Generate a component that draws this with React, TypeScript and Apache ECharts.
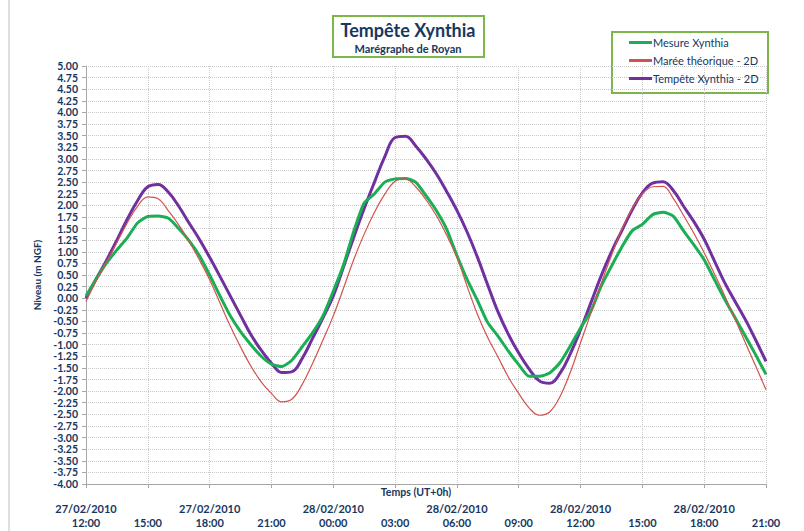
import React, { useEffect, useRef } from "react";
import * as echarts from "echarts";

// Hours since 27/02/2010 12:00 (UT), half-hour sampling
const hours: number[] = Array.from({ length: 67 }, (_, i) => i * 0.5);

const mesureXynthia: number[] = [
  0.05, 0.42, 0.76, 1.04, 1.30, 1.62, 1.76, 1.77, 1.72, 1.50,
  1.24, 0.92, 0.50, 0.05, -0.38, -0.72, -1.00, -1.25, -1.42, -1.47,
  -1.33, -1.04, -0.74, -0.38, 0.15, 0.72, 1.45, 2.05, 2.25, 2.50,
  2.57, 2.58, 2.50, 2.21, 1.89, 1.49, 0.92, 0.40, -0.05, -0.53,
  -0.82, -1.14, -1.43, -1.68, -1.68, -1.61, -1.39, -1.03, -0.64, -0.28,
  0.26, 0.69, 1.10, 1.45, 1.59, 1.80, 1.85, 1.77, 1.45, 1.15,
  0.83, 0.40, -0.03, -0.42, -0.82, -1.22, -1.64,
];

const mareeTheorique: number[] = [
  -0.07, 0.38, 0.78, 1.20, 1.62, 1.98, 2.18, 2.14, 1.88, 1.58,
  1.22, 0.83, 0.40, -0.10, -0.60, -1.05, -1.46, -1.80, -2.05, -2.23,
  -2.17, -1.85, -1.40, -0.90, -0.38, 0.22, 0.84, 1.38, 1.85, 2.24,
  2.52, 2.57, 2.40, 2.12, 1.78, 1.36, 0.88, 0.25, -0.35, -0.85,
  -1.27, -1.70, -2.05, -2.36, -2.52, -2.45, -2.12, -1.60, -0.96, -0.32,
  0.32, 0.92, 1.48, 1.92, 2.25, 2.40, 2.41, 2.15, 1.78, 1.40,
  0.98, 0.52, 0.05, -0.45, -0.96, -1.46, -1.97,
];

const tempeteXynthia: number[] = [
  0.00, 0.42, 0.82, 1.25, 1.70, 2.10, 2.40, 2.45, 2.28, 1.98,
  1.62, 1.27, 0.88, 0.47, 0.05, -0.37, -0.78, -1.12, -1.40, -1.60,
  -1.58, -1.29, -0.86, -0.42, 0.05, 0.68, 1.32, 1.93, 2.50, 3.05,
  3.46, 3.49, 3.28, 3.00, 2.68, 2.30, 1.89, 1.42, 0.88, 0.28,
  -0.30, -0.78, -1.18, -1.52, -1.78, -1.83, -1.62, -1.20, -0.68, -0.10,
  0.48, 1.00, 1.45, 1.90, 2.27, 2.48, 2.51, 2.32, 1.98, 1.65,
  1.27, 0.80, 0.33, -0.07, -0.46, -0.90, -1.36,
];

const xTickLabels: string[] = [
  "27/02/2010\n12:00", "\n15:00", "27/02/2010\n18:00", "\n21:00",
  "28/02/2010\n00:00", "\n03:00", "28/02/2010\n06:00", "\n09:00",
  "28/02/2010\n12:00", "\n15:00", "28/02/2010\n18:00", "\n21:00",
];

const seriesNames = ["Mesure Xynthia", "Marée théorique - 2D", "Tempête Xynthia - 2D"];
const seriesColors = ["#1AAF54", "#D4524E", "#7030A0"];

const NAVY = "#17375E";
const FONT = "Lato, 'Open Sans', sans-serif";
const BOX_GREEN = "#7DB74B";

export default function App() {
  const ref = useRef<HTMLDivElement>(null);
  useEffect(() => {
    if (!ref.current) return;
    const chart = echarts.init(ref.current, undefined, { renderer: "svg" });
    const pairs = (vals: number[]) => hours.map((h, i) => [h, vals[i]]);
    chart.setOption({
      animation: false,
      backgroundColor: "#ffffff",
      textStyle: { fontFamily: FONT },
      grid: { left: 86, right: 38, top: 66, bottom: 47, containLabel: false },
      legend: {
        orient: "vertical",
        left: 629,
        top: 36,
        padding: 0,
        itemWidth: 23,
        itemHeight: 3,
        itemGap: 5,
        icon: "rect",
        data: seriesNames.map((n) => ({ name: n, icon: "rect" })),
        textStyle: { color: NAVY, fontSize: 11, fontFamily: FONT, lineHeight: 13, padding: [0, 0, 0, -4] },
      },
      xAxis: {
        type: "value",
        min: 0,
        max: 33,
        interval: 3,
        axisLine: { show: true, onZero: false, lineStyle: { color: "#A6A6A6" } },
        axisTick: { show: true, length: 4, lineStyle: { color: "#A6A6A6" } },
        axisLabel: {
          margin: 17,
          lineHeight: 14,
          color: NAVY,
          fontSize: 11,
          fontWeight: "bold",
          fontFamily: FONT,
          formatter: (v: number) => xTickLabels[Math.round(v / 3)] ?? "",
        },
        splitLine: { show: true, lineStyle: { color: "#C8C8C8", type: "dotted", width: 1 } },
      },
      yAxis: {
        type: "value",
        min: -4,
        max: 5,
        interval: 0.25,
        name: "Niveau (m NGF)",
        nameLocation: "middle",
        nameGap: 34,
        nameRotate: 90,
        nameTextStyle: { color: NAVY, fontSize: 10, fontWeight: "bold", fontFamily: FONT },
        axisLine: { show: true, lineStyle: { color: "#A6A6A6" } },
        axisTick: { show: true, length: 4, lineStyle: { color: "#A6A6A6" } },
        axisLabel: {
          margin: 8,
          color: NAVY,
          fontSize: 10.5,
          fontWeight: "bold",
          fontFamily: FONT,
          formatter: (v: number) => v.toFixed(2),
        },
        splitLine: { show: true, lineStyle: { color: "#C8C8C8", type: "dotted", width: 1 } },
      },
      series: [
        {
          name: seriesNames[0],
          type: "line",
          data: pairs(mesureXynthia),
          symbol: "none",
          smooth: 0.2,
          z: 3,
          lineStyle: { color: seriesColors[0], width: 3 },
          itemStyle: { color: seriesColors[0] },
        },
        {
          name: seriesNames[1],
          type: "line",
          data: pairs(mareeTheorique),
          symbol: "none",
          smooth: 0.4,
          z: 4,
          lineStyle: { color: seriesColors[1], width: 1.2 },
          itemStyle: { color: seriesColors[1] },
        },
        {
          name: seriesNames[2],
          type: "line",
          data: pairs(tempeteXynthia),
          symbol: "none",
          smooth: 0.4,
          z: 2,
          lineStyle: { color: seriesColors[2], width: 3 },
          itemStyle: { color: seriesColors[2] },
        },
      ],
      graphic: [
        { type: "line", shape: { x1: 9, y1: 0, x2: 9, y2: 531 }, style: { stroke: "#BFBFBF", lineWidth: 1 } },
        {
          type: "rect",
          shape: { x: 333, y: 16, width: 151, height: 41 },
          style: { fill: "#ffffff", stroke: BOX_GREEN, lineWidth: 2 },
        },
        {
          type: "text",
          x: 408,
          y: 30,
          style: {
            text: "Tempête Xynthia",
            fill: NAVY,
            font: `bold 18px ${FONT}`,
            textAlign: "center",
            textVerticalAlign: "middle",
          },
        },
        {
          type: "text",
          x: 408,
          y: 48,
          style: {
            text: "Marégraphe de Royan",
            fill: NAVY,
            font: `bold 11px ${FONT}`,
            textAlign: "center",
            textVerticalAlign: "middle",
          },
        },
        {
          type: "rect",
          z: -1,
          shape: { x: 612, y: 32, width: 156, height: 61 },
          style: { fill: "#ffffff", stroke: BOX_GREEN, lineWidth: 2 },
        },
        {
          type: "text",
          x: 416,
          y: 492,
          style: {
            text: "Temps (UT+0h)",
            fill: NAVY,
            font: `bold 10.5px ${FONT}`,
            textAlign: "center",
            textVerticalAlign: "middle",
          },
        },
      ],
    });
    return () => chart.dispose();
  }, []);
  return (
    <div
      ref={ref}
      style={{ position: "fixed", left: 0, top: 0, width: 804, height: 531, background: "#fff" }}
    />
  );
}
